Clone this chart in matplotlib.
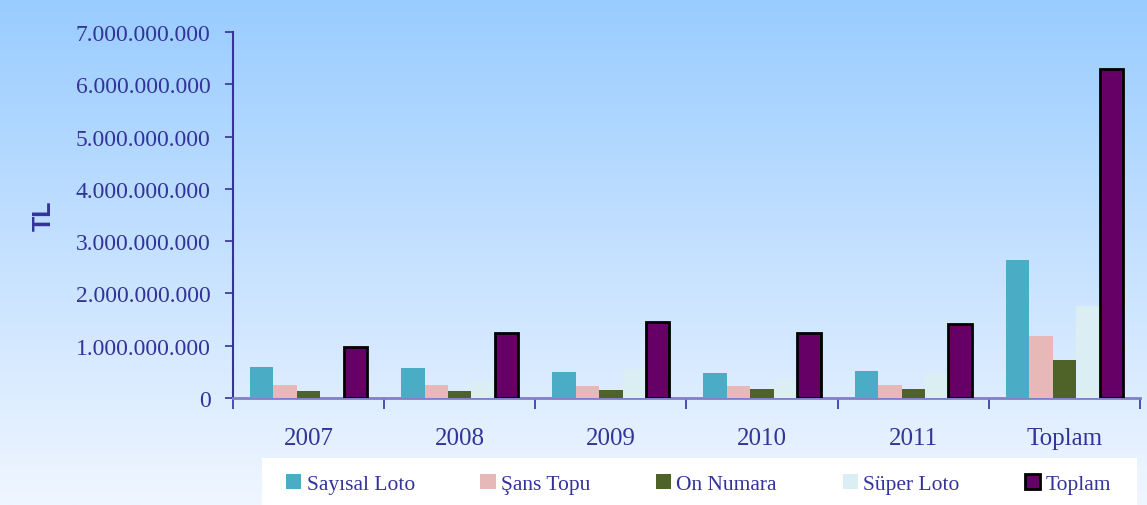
import numpy as np
import matplotlib.pyplot as plt
from matplotlib.patches import Rectangle
from matplotlib.ticker import FuncFormatter, FixedLocator

# Data (TL)
categories = ["2007", "2008", "2009", "2010", "2011", "Toplam"]
sayisal_loto = [0.59e9, 0.57e9, 0.50e9, 0.48e9, 0.52e9, 2.64e9]
sans_topu = [0.25e9, 0.25e9, 0.23e9, 0.23e9, 0.25e9, 1.19e9]
on_numara = [0.13e9, 0.13e9, 0.15e9, 0.17e9, 0.17e9, 0.73e9]
super_loto = [0.00e9, 0.32e9, 0.55e9, 0.37e9, 0.48e9, 1.76e9]
toplam = [0.975e9, 1.25e9, 1.45e9, 1.25e9, 1.42e9, 6.29e9]

series = ["Sayısal Loto", "Şans Topu", "On Numara", "Süper Loto", "Toplam"]
colors = ["#4bacc6", "#e6b9b8", "#4f6228", "#dbeef4", "#660066"]
txt = "#333399"

plt.rcParams["font.family"] = ["Liberation Serif", "DejaVu Serif"]

fig = plt.figure(figsize=(11.47, 5.06), dpi=100)

# Background gradient
bg = fig.add_axes([0, 0, 1, 1], zorder=-10)
top = np.array([0x99, 0xcc, 0xff]) / 255
bot = np.array([0xf0, 0xf6, 0xff]) / 255
t = np.linspace(0, 1, 256)[:, None]
grad = top * (1 - t) + bot * t
bg.imshow(grad[:, None, :], aspect="auto", extent=[0, 1, 0, 1])
bg.axis("off")

ax = fig.add_axes([0.2031, 0.2115, 0.7908, 0.7233])
ax.patch.set_alpha(0)

x = np.arange(len(categories))
w = 0.155
data = [sayisal_loto, sans_topu, on_numara, super_loto, toplam]
for i, (vals, c) in enumerate(zip(data, colors)):
    off = (i - 2) * w
    if i == 4:
        ax.bar(x + off, vals, w, color=c, edgecolor="black", linewidth=2, zorder=3)
    else:
        ax.bar(x + off, vals, w, color=c, zorder=3)

ax.set_xlim(-0.5, len(categories) - 0.5)
ax.set_ylim(0, 7e9)
ax.yaxis.set_major_locator(FixedLocator(np.arange(0, 7.01e9, 1e9)))
ax.yaxis.set_major_formatter(FuncFormatter(lambda v, p: f"{int(v):,}".replace(",", ".")))
ax.set_xticks(x)
ax.set_xticklabels(categories)
ax.set_xticks(np.arange(-0.5, len(categories)), minor=True)
ax.tick_params(axis="x", which="major", length=0, pad=21, labelsize=18, labelcolor=txt)
ax.tick_params(axis="x", which="minor", length=8, color=txt, width=1.2)
ax.tick_params(axis="y", length=6, color=txt, width=1.2, labelsize=17, labelcolor=txt, pad=10)

for s in ["top", "right"]:
    ax.spines[s].set_visible(False)
ax.spines["left"].set_color(txt)
ax.spines["left"].set_linewidth(1.5)
ax.spines["bottom"].set_color("#8080c8")
ax.spines["bottom"].set_linewidth(2)

fig.text(0.038, 0.573, "TL", rotation=90, ha="center", va="center", fontsize=18,
         fontweight="bold", color=txt, family=["Liberation Sans", "DejaVu Sans"])

# Legend box
fig.patches.append(Rectangle((262 / 1147, 0), (1137 - 262) / 1147, 47 / 506,
                             transform=fig.transFigure, facecolor="white", edgecolor="none", zorder=1))
handles = [Rectangle((0, 0), 1, 1, facecolor=c, edgecolor="black" if i == 4 else "none",
                     linewidth=2 if i == 4 else 0) for i, c in enumerate(colors)]
leg = fig.legend(handles, series, loc="center", bbox_to_anchor=(0.609, 0.041), ncol=5,
                 frameon=False, fontsize=15.5, labelcolor=txt, handlelength=0.7, handleheight=0.7,
                 handletextpad=0.25, columnspacing=3.05)
leg.set_zorder(2)

fig.savefig("out.png", dpi=100)
